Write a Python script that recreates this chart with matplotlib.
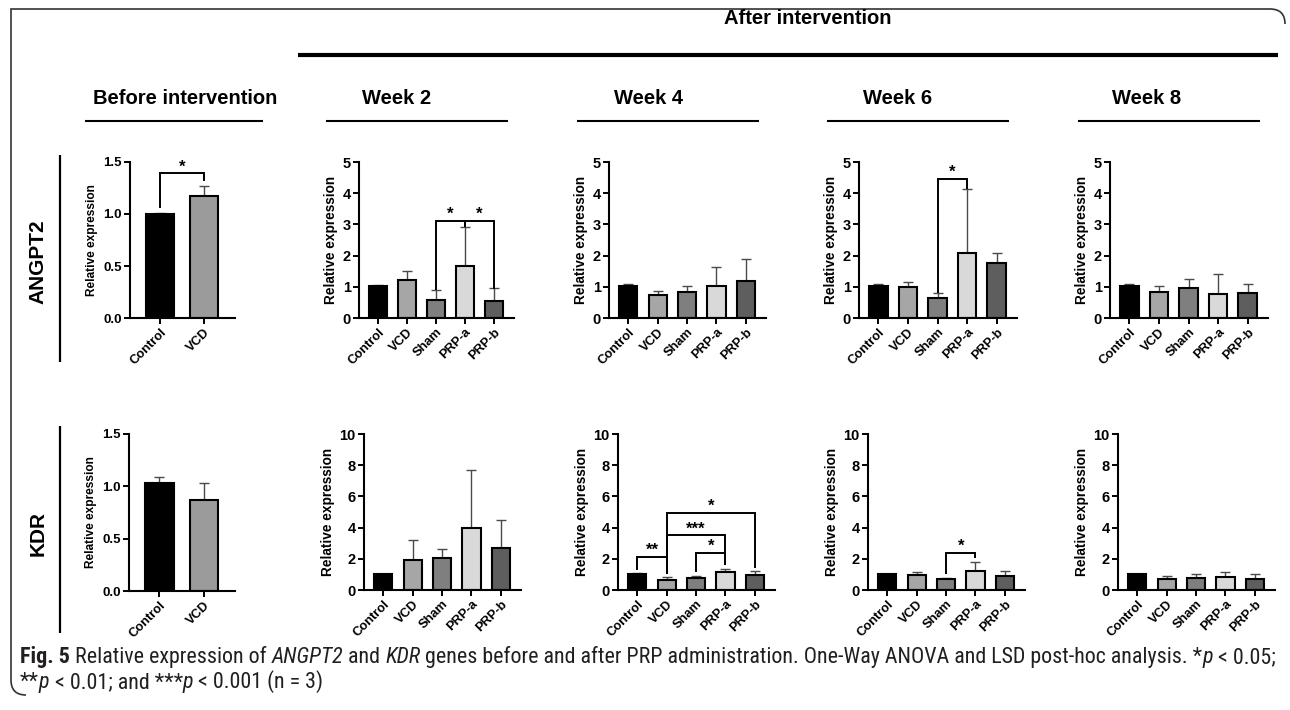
import numpy as np
import matplotlib
matplotlib.use("Agg")
import matplotlib.pyplot as plt
from matplotlib.lines import Line2D
from matplotlib.path import Path
from matplotlib.patches import PathPatch
from matplotlib import font_manager

# ---------------- data ----------------
groups_before = ["Control", "VCD"]
groups_after = ["Control", "VCD", "Sham", "PRP-a", "PRP-b"]

angpt2_before_mean = [1.00, 1.17]
angpt2_before_sd = [0.01, 0.10]
kdr_before_mean = [1.03, 0.87]
kdr_before_sd = [0.06, 0.16]

angpt2_w2_mean = [1.02, 1.21, 0.57, 1.68, 0.55]
angpt2_w2_sd = [0.05, 0.31, 0.34, 1.25, 0.40]
angpt2_w4_mean = [1.02, 0.74, 0.83, 1.02, 1.20]
angpt2_w4_sd = [0.06, 0.13, 0.19, 0.63, 0.68]
angpt2_w6_mean = [1.02, 1.00, 0.65, 2.08, 1.76]
angpt2_w6_sd = [0.06, 0.15, 0.15, 2.07, 0.31]
angpt2_w8_mean = [1.03, 0.82, 0.95, 0.78, 0.80]
angpt2_w8_sd = [0.05, 0.21, 0.30, 0.62, 0.28]

kdr_w2_mean = [1.00, 1.90, 2.02, 3.98, 2.68]
kdr_w2_sd = [0.05, 1.32, 0.62, 3.70, 1.83]
kdr_w4_mean = [1.00, 0.65, 0.78, 1.17, 0.95]
kdr_w4_sd = [0.07, 0.17, 0.12, 0.18, 0.25]
kdr_w6_mean = [1.00, 0.95, 0.68, 1.20, 0.88]
kdr_w6_sd = [0.05, 0.18, 0.10, 0.60, 0.34]
kdr_w8_mean = [1.00, 0.72, 0.80, 0.82, 0.72]
kdr_w8_sd = [0.05, 0.15, 0.20, 0.33, 0.32]

# significance comparisons: (group i, group j, bracket height, label)
angpt2_before_sig = [(0, 1, 1.39, "*")]
angpt2_w2_sig = [(2, 3, 3.12, "*"), (3, 4, 3.12, "*")]
angpt2_w6_sig = [(2, 3, 4.45, "*")]
kdr_w4_sig = [(0, 1, 2.10, "**"), (2, 3, 2.40, "*"), (1, 3, 3.50, "***"), (1, 4, 4.95, "*")]
kdr_w6_sig = [(2, 3, 2.40, "*")]

row_labels = ["ANGPT2", "KDR"]
col_headers = ["Before intervention", "Week 2", "Week 4", "Week 6", "Week 8"]
top_header = "After intervention"
ylabel_text = "Relative expression"

# ---------------- style ----------------
W, H = 1290, 710
plt.rcParams["font.family"] = ["Liberation Sans", "DejaVu Sans"]
fig = plt.figure(figsize=(W / 100, H / 100), dpi=100)

colors_before = ["#000000", "#9b9b9b"]
colors_after = ["#000000", "#a6a6a6", "#7f7f7f", "#d9d9d9", "#5e5e5e"]


def fx(x):
    return x / W


def fy(y):
    return 1 - y / H


def add_axes_px(L, R, B, T):
    return fig.add_axes([fx(L), fy(B), (R - L) / W, (B - T) / H])


def draw_panel(ax, groups, mean, sd, colors, ymax, yticks, ytick_fmt, xlim,
               width, sig, gap, ylab_size, ylab_pad, ytl_size):
    x = np.arange(len(groups))
    ax.errorbar(x, mean, yerr=[np.zeros(len(sd)), sd], fmt="none",
                ecolor="#4a4a4a", elinewidth=1.0, capsize=3.6, capthick=1.0,
                zorder=1)
    ax.bar(x, mean, width=width, color=colors, edgecolor="black",
           linewidth=1.5, zorder=2)
    ax.set_xlim(*xlim)
    ax.set_ylim(0, ymax)
    ax.set_yticks(yticks)
    ax.set_yticklabels([ytick_fmt.format(v) for v in yticks],
                       fontsize=ytl_size, fontweight="bold")
    ax.set_xticks(x)
    ax.set_xticklabels(groups, rotation=45, ha="right",
                       rotation_mode="anchor", fontsize=9.3,
                       fontweight="bold")
    for s in ["top", "right"]:
        ax.spines[s].set_visible(False)
    for s in ["left", "bottom"]:
        ax.spines[s].set_linewidth(1.5)
    ax.tick_params(axis="both", direction="out", length=4, width=1.4,
                   pad=2)
    ax.set_ylabel(ylabel_text, fontsize=ylab_size, fontweight="bold",
                  labelpad=ylab_pad)
    tops = np.array(mean) + np.array(sd)
    for i, j, h, lab in sig:
        yi = tops[i] + gap * ymax
        yj = tops[j] + gap * ymax
        ax.plot([i, i, j, j], [yi, h, h, yj], color="black", lw=1.4,
                solid_joinstyle="miter", zorder=3, clip_on=False)
        ax.annotate(lab, xy=((i + j) / 2, h), xytext=(0, 1.5),
                    textcoords="offset points", ha="center",
                    va="baseline", fontsize=12, fontweight="bold")


# ---------------- panels ----------------
xlim_before = (-0.68, 1.70)
xlim_after = (-0.66, 4.69)

ax = add_axes_px(130, 235, 318, 162)
draw_panel(ax, groups_before, angpt2_before_mean, angpt2_before_sd,
           colors_before, 1.5, [0, 0.5, 1.0, 1.5], "{:.1f}", xlim_before,
           0.64, angpt2_before_sig, 0.04, 8.6, 4, 9.5)
ax = add_axes_px(129, 235, 591, 434)
draw_panel(ax, groups_before, kdr_before_mean, kdr_before_sd,
           colors_before, 1.5, [0, 0.5, 1.0, 1.5], "{:.1f}", xlim_before,
           0.64, [], 0.04, 8.6, 4, 9.5)

top_specs = [
    (359, 514, angpt2_w2_mean, angpt2_w2_sd, angpt2_w2_sig),
    (609, 766, angpt2_w4_mean, angpt2_w4_sd, []),
    (859, 1017, angpt2_w6_mean, angpt2_w6_sd, angpt2_w6_sig),
    (1110, 1268, angpt2_w8_mean, angpt2_w8_sd, []),
]
for L, R, m, s, sg in top_specs:
    ax = add_axes_px(L, R, 318, 162)
    draw_panel(ax, groups_after, m, s, colors_after, 5, [0, 1, 2, 3, 4, 5],
               "{:d}", xlim_after, 0.62, sg, 0.005, 9.8, 3, 10.5)

bot_specs = [
    (364, 521, kdr_w2_mean, kdr_w2_sd, []),
    (618, 775, kdr_w4_mean, kdr_w4_sd, kdr_w4_sig),
    (868, 1025, kdr_w6_mean, kdr_w6_sd, kdr_w6_sig),
    (1118, 1275, kdr_w8_mean, kdr_w8_sd, []),
]
for L, R, m, s, sg in bot_specs:
    ax = add_axes_px(L, R, 590, 434)
    draw_panel(ax, groups_after, m, s, colors_after, 10,
               [0, 2, 4, 6, 8, 10], "{:d}", xlim_after, 0.62, sg, 0.03,
               9.8, 3, 10.5)


# ---------------- headers / decorations ----------------
def hline(x0, x1, y, lw):
    fig.add_artist(Line2D([fx(x0), fx(x1)], [fy(y), fy(y)],
                          transform=fig.transFigure, color="black", lw=lw,
                          solid_capstyle="butt"))


def vline(x, y0, y1, lw):
    fig.add_artist(Line2D([fx(x), fx(x)], [fy(y0), fy(y1)],
                          transform=fig.transFigure, color="black", lw=lw,
                          solid_capstyle="butt"))


fig.text(fx(808), fy(19), top_header, ha="center", va="center",
         fontsize=14.5, fontweight="bold")
hline(298, 1278, 55, 3.0)

header_x = [185, 397, 648, 898, 1147]
for hx, txt in zip(header_x, col_headers):
    fig.text(fx(hx), fy(99), txt, ha="center", va="center", fontsize=14.5,
             fontweight="bold")
line_spans = [(85, 263), (326, 508), (577, 759), (827, 1009), (1078, 1260)]
for x0, x1 in line_spans:
    hline(x0, x1, 121, 1.5)

fig.text(fx(38), fy(262), row_labels[0], rotation=90, ha="center",
         va="center", fontsize=15, fontweight="bold")
vline(60, 155, 362, 1.6)
fig.text(fx(38), fy(533), row_labels[1], rotation=90, ha="center",
         va="center", fontsize=15, fontweight="bold")
vline(60, 426, 633, 1.6)

# frame
verts = [(fx(1285), fy(24)), (fx(1285), fy(9)), (fx(1270), fy(9)),
         (fx(11), fy(9)), (fx(11), fy(680)), (fx(11), fy(695)),
         (fx(26), fy(695))]
codes = [Path.MOVETO, Path.CURVE3, Path.CURVE3, Path.LINETO, Path.LINETO,
         Path.CURVE3, Path.CURVE3]
fig.add_artist(PathPatch(Path(verts, codes), transform=fig.transFigure,
                         fill=False, edgecolor="#333333", lw=1.2))

# ---------------- caption ----------------
names = {f.name for f in font_manager.fontManager.ttflist}
cap_family = "Liberation Sans"
for cand in ["Liberation Sans Narrow", "Roboto Condensed",
             "Open Sans Condensed", "Open Sans"]:
    if cand in names:
        cap_family = cand
        break

line1 = [("Fig. 5", {"fontweight": "bold"}),
         (" Relative expression of ", {}),
         ("ANGPT2", {"fontstyle": "italic"}),
         (" and ", {}),
         ("KDR", {"fontstyle": "italic"}),
         (" genes before and after PRP administration. One-Way ANOVA and "
          "LSD post-hoc analysis. *", {}),
         ("p", {"fontstyle": "italic"}),
         (" < 0.05;", {})]
line2 = [("**", {}), ("p", {"fontstyle": "italic"}),
         (" < 0.01; and ***", {}), ("p", {"fontstyle": "italic"}),
         (" < 0.001 (n = 3)", {})]

renderer = fig.canvas.get_renderer()


def rich_line(x_px, y_px, runs, size, draw=True):
    x = fx(x_px)
    made = []
    for txt, st in runs:
        t = fig.text(x, fy(y_px), txt, fontsize=size, family=cap_family,
                     ha="left", va="baseline", color="#231f20", **st)
        bb = t.get_window_extent(renderer)
        x = bb.x1 / W
        made.append(t)
    right = made[-1].get_window_extent(renderer).x1
    if not draw:
        for t in made:
            t.remove()
    return right


target_right = 1280
cap_size = 10.0
for _ in range(4):
    r = rich_line(20, 663, line1, cap_size, draw=False)
    cap_size *= (target_right - 20) / (r - 20)
rich_line(20, 663, line1, cap_size)
rich_line(20, 688, line2, cap_size)

fig.savefig("out.png", dpi=100)
